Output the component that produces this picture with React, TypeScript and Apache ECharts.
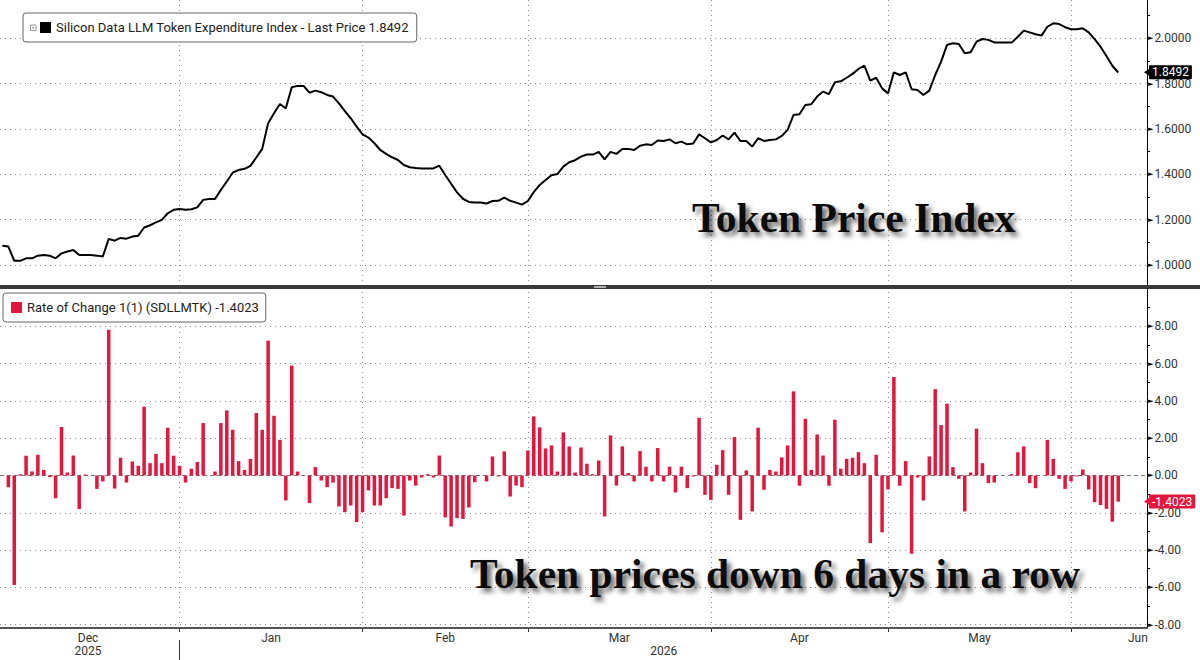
import React, { useEffect, useRef } from "react";
import * as echarts from "echarts";

const LINE_NAME = "Silicon Data LLM Token Expenditure Index - Last Price 1.8492";
const BAR_NAME = "Rate of Change 1(1) (SDLLMTK) -1.4023";
const FIRST_DAY = "2025-12-02";
const X_MIN = "2025-12-01T14:00";
const X_MAX = "2026-06-13T21:00";

// daily index level, Dec 2 2025 .. Jun 9 2026
const priceIndex = [
  1.085, 1.081, 1.018, 1.018, 1.029, 1.029, 1.041, 1.044, 1.041, 1.029,
  1.051, 1.059, 1.066, 1.044, 1.044, 1.044, 1.041, 1.037, 1.115, 1.107,
  1.119, 1.116, 1.125, 1.129, 1.165, 1.175, 1.188, 1.199, 1.228, 1.243,
  1.247, 1.243, 1.246, 1.254, 1.287, 1.291, 1.291, 1.331, 1.368, 1.407,
  1.419, 1.424, 1.437, 1.474, 1.512, 1.625, 1.669, 1.71, 1.691, 1.784,
  1.79, 1.79, 1.76, 1.769, 1.762, 1.75, 1.743, 1.713, 1.679, 1.647,
  1.61, 1.576, 1.562, 1.537, 1.507, 1.49, 1.475, 1.463, 1.441, 1.431,
  1.428, 1.426, 1.426, 1.426, 1.438, 1.397, 1.358, 1.32, 1.292, 1.278,
  1.275, 1.275, 1.271, 1.282, 1.283, 1.297, 1.283, 1.275, 1.266, 1.282,
  1.321, 1.353, 1.375, 1.396, 1.401, 1.434, 1.453, 1.462, 1.478, 1.487,
  1.487, 1.499, 1.466, 1.499, 1.49, 1.512, 1.512, 1.507, 1.526, 1.532,
  1.529, 1.549, 1.547, 1.554, 1.537, 1.544, 1.532, 1.536, 1.576, 1.559,
  1.541, 1.551, 1.571, 1.554, 1.584, 1.547, 1.547, 1.522, 1.559, 1.547,
  1.551, 1.554, 1.569, 1.596, 1.662, 1.665, 1.706, 1.709, 1.743, 1.765,
  1.754, 1.806, 1.81, 1.826, 1.843, 1.865, 1.879, 1.813, 1.826, 1.779,
  1.757, 1.85, 1.838, 1.85, 1.775, 1.772, 1.75, 1.769, 1.838, 1.897,
  1.971, 1.978, 1.975, 1.934, 1.938, 1.985, 1.997, 1.993, 1.982, 1.982,
  1.982, 1.982, 2.007, 2.034, 2.026, 2.018, 2.012, 2.051, 2.066, 2.063,
  2.049, 2.04, 2.04, 2.044, 2.026, 1.996, 1.963, 1.922, 1.879, 1.8492,
];

// daily % change, Dec 3 2025 .. Jun 9 2026
const rateOfChange = [
  -0.63, -5.87, 0.07, 1.06, 0.21, 1.11, 0.3, -0.09, -1.22, 2.6,
  0.16, 1.07, -1.8, 0.05, 0, -0.72, -0.32, 7.82, -0.7, 0.95,
  -0.38, 0.75, 0.52, 3.69, 0.66, 1.16, 0.66, 2.56, 1.06, 0.52,
  -0.38, 0.36, 0.72, 2.81, 0, 0.21, 2.81, 3.49, 2.45, 0.77,
  0.3, 0.89, 3.35, 2.45, 7.23, 3.2, 1.91, -1.34, 5.89, 0.21,
  0, -1.48, 0.45, -0.27, -0.63, -0.38, -1.66, -1.97, -1.61, -2.5,
  -1.97, -0.8, -1.61, -1.61, -1.22, -0.68, -0.72, -2.15, -0.27, -0.54,
  -0.11, 0.07, -0.11, 1.07, -2.25, -2.74, -2.29, -2.33, -1.72, -0.36,
  0, -0.32, 1.02, -0.05, 1.29, -1.13, -0.54, -0.63, 1.34, 3.17,
  2.58, 1.45, 1.61, 0.21, 2.31, 1.56, 0.16, 1.5, 0.63, 0.07,
  0.8, -2.2, 2.15, -0.54, 1.56, 0.13, -0.32, 1.31, 0.47, -0.32,
  1.47, -0.32, 0.47, -0.91, 0.47, -0.68, -0.05, 3.09, -1.04, -1.31,
  0.57, 1.36, -1.04, 2.06, -2.38, 0.27, -1.93, 2.56, -0.77, 0.3,
  0.21, 0.97, 1.61, 4.51, -0.55, 3.04, 0.3, 2.2, 1.07, -0.55,
  2.99, 0.36, 0.89, 0.95, 1.25, 0.66, -3.63, 1.11, -3.05, -0.75,
  5.28, -0.55, 0.77, -4.2, -0.11, -1.34, 1.02, 4.63, 2.7, 3.85,
  0.45, -0.18, -1.93, 0.16, 2.51, 0.66, -0.41, -0.38, 0, 0,
  0.07, 1.25, 1.56, -0.41, -0.68, 0, 1.91, 0.89, -0.18, -0.72,
  -0.32, -0.05, 0.32, -0.75, -1.43, -1.59, -1.79, -2.48, -1.4023,
];

const monthStarts = ["2026-01-01", "2026-02-01", "2026-03-01", "2026-04-01", "2026-05-01", "2026-06-01"];
const monthLabelDates = ["2025-12-16T12:00", "2026-01-16T12:00", "2026-02-15T00:00", "2026-03-16T12:00", "2026-04-16T00:00", "2026-05-16T12:00", "2026-06-12T08:00"];
const monthLabelTexts = ["Dec", "Jan", "Feb", "Mar", "Apr", "May", "Jun"];
const yearLabelDates = ["2025-12-16T12:00", "2026-03-24T00:00"];
const yearLabelTexts = ["2025", "2026"];
const yearSeparators = ["2026-01-01"];

const priceTicks = [1.0, 1.1, 1.2, 1.3, 1.4, 1.5, 1.6, 1.7, 1.8, 1.9, 2.0, 2.1];
const priceLabels = [1.0, 1.2, 1.4, 1.6, 1.8, 2.0];
const rocTicks = [-8, -7, -6, -5, -4, -3, -2, -1, 0, 1, 2, 3, 4, 5, 6, 7, 8, 9];
const rocLabels = [-8, -6, -4, -2, 0, 2, 4, 6, 8];

const PRICE_MIN = 0.907;
const PRICE_MAX = 2.169;
const ROC_MIN = -8.18;
const ROC_MAX = 10.0;
const LAST_PRICE = 1.8492;
const LAST_ROC = -1.4023;

const TITLE_TOP = "Token Price Index";
const TITLE_BOTTOM = "Token prices down 6 days in a row";

const DAY = 86400000;
const ts = (s: string) => Date.parse(s.length === 10 ? s + "T00:00:00Z" : s + ":00Z");

const SANS = "Roboto, 'Liberation Sans', sans-serif";
const SERIF = "'Liberation Serif', 'Times New Roman', serif";
const RED = "#e3173d";
const GRID_COLOR = "#8a8a8a";
const TITLE_SIZE = 41.5;

function labelLookup(dates: string[], texts: string[]) {
  const keys = dates.map(ts);
  return (v: number) => {
    let best = "";
    let bd = Infinity;
    keys.forEach((k, i) => {
      const dd = Math.abs(k - v);
      if (dd < bd) {
        bd = dd;
        best = texts[i];
      }
    });
    return best;
  };
}

// Title text plus a blurred drop-shadow (an SVG image, since the SVG renderer does not blur text)
function shadowTitle(text: string, x: number, baseline: number, width: number) {
  const pad = 12;
  const h = 80;
  const base = 56;
  const svg =
    "<svg xmlns='http://www.w3.org/2000/svg' width='" + width + "' height='" + h + "'>" +
    "<defs><filter id='b' x='-5%' y='-20%' width='110%' height='140%'><feGaussianBlur stdDeviation='2.4'/></filter></defs>" +
    "<text x='" + pad + "' y='" + base + "' font-family='Liberation Serif, Times New Roman, serif' font-weight='bold' font-size='" +
    TITLE_SIZE + "' fill='rgba(0,0,0,0.62)' filter='url(#b)'>" + text + "</text></svg>";
  const uri = "data:image/svg+xml;charset=utf-8," + encodeURIComponent(svg);
  return [
    {
      type: "image",
      z: 99,
      silent: true,
      x: x + 4 - pad,
      y: baseline + 4 - base,
      style: { image: uri, width, height: h },
    },
    {
      type: "text",
      z: 100,
      x,
      y: baseline - 0.3375 * TITLE_SIZE,
      style: { text, font: "bold " + TITLE_SIZE + "px " + SERIF, fill: "#0b0b0b", align: "left", verticalAlign: "middle" },
    },
  ];
}

export default function App() {
  const ref = useRef<HTMLDivElement>(null);

  useEffect(() => {
    if (!ref.current) return;
    const chart = echarts.init(ref.current, undefined, { renderer: "svg" });
    const start = ts(FIRST_DAY);
    const lineData = priceIndex.map((v, i) => [start + i * DAY, v]);
    const barData = rateOfChange.map((v, i) => [start + (i + 1) * DAY, v]);
    const monthFmt = labelLookup(monthLabelDates, monthLabelTexts);
    const yearFmt = labelLookup(yearLabelDates, yearLabelTexts);
    const gridLine = { type: [1, 4] as any, color: GRID_COLOR, width: 1 };

    const yLabel = (digits: number, values: number[]) => ({
      show: true,
      customValues: values,
      margin: 1,
      formatter: (v: number) => "{a|\u25BA}{b|" + v.toFixed(digits) + "}",
      rich: {
        a: { fontSize: 7, color: "#111", fontFamily: "'DejaVu Sans'", padding: [0, 1, 0, 0] },
        b: { fontSize: 12, color: "#333", fontFamily: SANS },
      },
    });

    const tagMarkLine = (value: number, bg: string) => ({
      silent: true,
      symbol: ["none", "triangle"],
      symbolSize: [8, 6],
      symbolRotate: 90,
      z: 10,
      animation: false,
      lineStyle: { width: 0, color: bg },
      data: [
        {
          yAxis: value,
          label: {
            show: true,
            position: "end",
            distance: 2,
            formatter: value.toFixed(4),
            color: "#fff",
            backgroundColor: bg,
            borderRadius: 1,
            padding: [1, 3, 0, 3],
            fontSize: 12,
            lineHeight: 13,
            fontFamily: SANS,
          },
        },
      ],
    });

    const xBase = {
      type: "value",
      min: ts(X_MIN),
      max: ts(X_MAX),
      splitLine: { show: false },
    };

    chart.setOption({
      animation: false,
      backgroundColor: "#ffffff",
      grid: [
        { left: 0, top: 0, width: 1147, height: 286 },
        { left: 0, top: 289, width: 1147, height: 339 },
      ],
      legend: [
        {
          data: [LINE_NAME],
          left: 23,
          top: 13,
          icon: "rect",
          itemWidth: 11,
          itemHeight: 11,
          padding: [8, 8, 8, 17],
          backgroundColor: "#fff",
          borderColor: "#666",
          borderWidth: 1,
          borderRadius: 3,
          selectedMode: false,
          textStyle: { fontFamily: SANS, fontSize: 13, color: "#222" },
        },
        {
          data: [BAR_NAME],
          left: 3,
          top: 293,
          icon: "rect",
          itemWidth: 11,
          itemHeight: 11,
          padding: [8, 7, 8, 8],
          backgroundColor: "#fff",
          borderColor: "#666",
          borderWidth: 1,
          borderRadius: 3,
          selectedMode: false,
          textStyle: { fontFamily: SANS, fontSize: 13, color: "#222" },
        },
      ],
      xAxis: [
        {
          ...xBase,
          gridIndex: 0,
          axisLine: { show: false },
          axisTick: { show: false },
          axisLabel: { show: false },
        },
        {
          ...xBase,
          gridIndex: 1,
          axisLine: { show: true, onZero: false, lineStyle: { color: "#555", width: 2 } },
          axisTick: {
            show: true,
            customValues: monthStarts.map(ts),
            length: 4,
            lineStyle: { color: "#333" },
          },
          axisLabel: {
            show: true,
            customValues: monthLabelDates.map(ts),
            formatter: (v: number) => monthFmt(v),
            margin: 4,
            fontSize: 12,
            color: "#333",
            fontFamily: SANS,
          },
        },
        {
          ...xBase,
          gridIndex: 1,
          position: "bottom",
          offset: 12,
          axisLine: { show: false, onZero: false },
          axisTick: {
            show: true,
            customValues: yearSeparators.map(ts),
            length: 20,
            lineStyle: { color: "#333" },
          },
          axisLabel: {
            show: true,
            customValues: yearLabelDates.map(ts),
            formatter: (v: number) => yearFmt(v),
            margin: 5,
            fontSize: 12,
            color: "#333",
            fontFamily: SANS,
          },
        },
      ],
      yAxis: [
        {
          type: "value",
          gridIndex: 0,
          position: "right",
          min: PRICE_MIN,
          max: PRICE_MAX,
          axisLine: { show: true, lineStyle: { color: "#000", width: 1 } },
          axisTick: { show: true, customValues: priceTicks, length: 3, lineStyle: { color: "#000" } },
          axisLabel: yLabel(4, priceLabels),
          splitLine: { show: false },
        },
        {
          type: "value",
          gridIndex: 1,
          position: "right",
          min: ROC_MIN,
          max: ROC_MAX,
          axisLine: { show: true, lineStyle: { color: "#000", width: 1 } },
          axisTick: { show: true, customValues: rocTicks, length: 3, lineStyle: { color: "#000" } },
          axisLabel: yLabel(2, rocLabels),
          splitLine: { show: false },
        },
      ],
      series: [
        {
          name: LINE_NAME,
          type: "line",
          xAxisIndex: 0,
          yAxisIndex: 0,
          data: lineData,
          showSymbol: false,
          clip: false,
          color: "#000",
          lineStyle: { color: "#000", width: 2 },
          z: 3,
          markLine: {
            silent: true,
            symbol: "none",
            z: 1,
            animation: false,
            label: { show: false },
            lineStyle: gridLine,
            data: [
              ...priceLabels.map((v) => ({ yAxis: v })),
              ...monthStarts.map((d) => ({ xAxis: ts(d) })),
            ],
          },
        },
        {
          name: "lastPriceTag",
          type: "line",
          xAxisIndex: 0,
          yAxisIndex: 0,
          data: [],
          markLine: tagMarkLine(LAST_PRICE, "#000"),
        },
        {
          name: BAR_NAME,
          type: "bar",
          xAxisIndex: 1,
          yAxisIndex: 1,
          data: barData,
          barWidth: 3.5,
          clip: false,
          color: RED,
          itemStyle: { color: RED },
          z: 3,
          markLine: {
            silent: true,
            symbol: "none",
            z: 1,
            animation: false,
            label: { show: false },
            lineStyle: gridLine,
            data: [
              ...rocLabels.filter((v) => v !== 0).map((v) => ({ yAxis: v })),
              ...monthStarts.map((d) => ({ xAxis: ts(d) })),
              { yAxis: 0, lineStyle: { type: [4, 3], color: "#777", width: 1 } },
            ],
          },
        },
        {
          name: "lastRocTag",
          type: "line",
          xAxisIndex: 1,
          yAxisIndex: 1,
          data: [],
          markLine: tagMarkLine(LAST_ROC, RED),
        },
      ],
      graphic: [
        { type: "rect", z: 100, shape: { x: 0, y: 285, width: 1200, height: 4 }, style: { fill: "#3a3a3a" } },
        { type: "rect", z: 101, shape: { x: 594, y: 286, width: 12, height: 2 }, style: { fill: "#b0b0b0" } },
        { type: "rect", z: 100, shape: { x: 30.5, y: 25, width: 5.5, height: 5.5 }, style: { fill: "#fff", stroke: "#999", lineWidth: 1 } },
        { type: "rect", z: 101, shape: { x: 32.5, y: 27, width: 1.5, height: 1.5 }, style: { fill: "#777" } },
        ...shadowTitle(TITLE_TOP, 692, 232, 370),
        ...shadowTitle(TITLE_BOTTOM, 470, 588, 650),
      ],
    });

    return () => chart.dispose();
  }, []);

  return (
    <div
      ref={ref}
      style={{ position: "fixed", left: 0, top: 0, width: 1200, height: 660, background: "#fff" }}
    />
  );
}
